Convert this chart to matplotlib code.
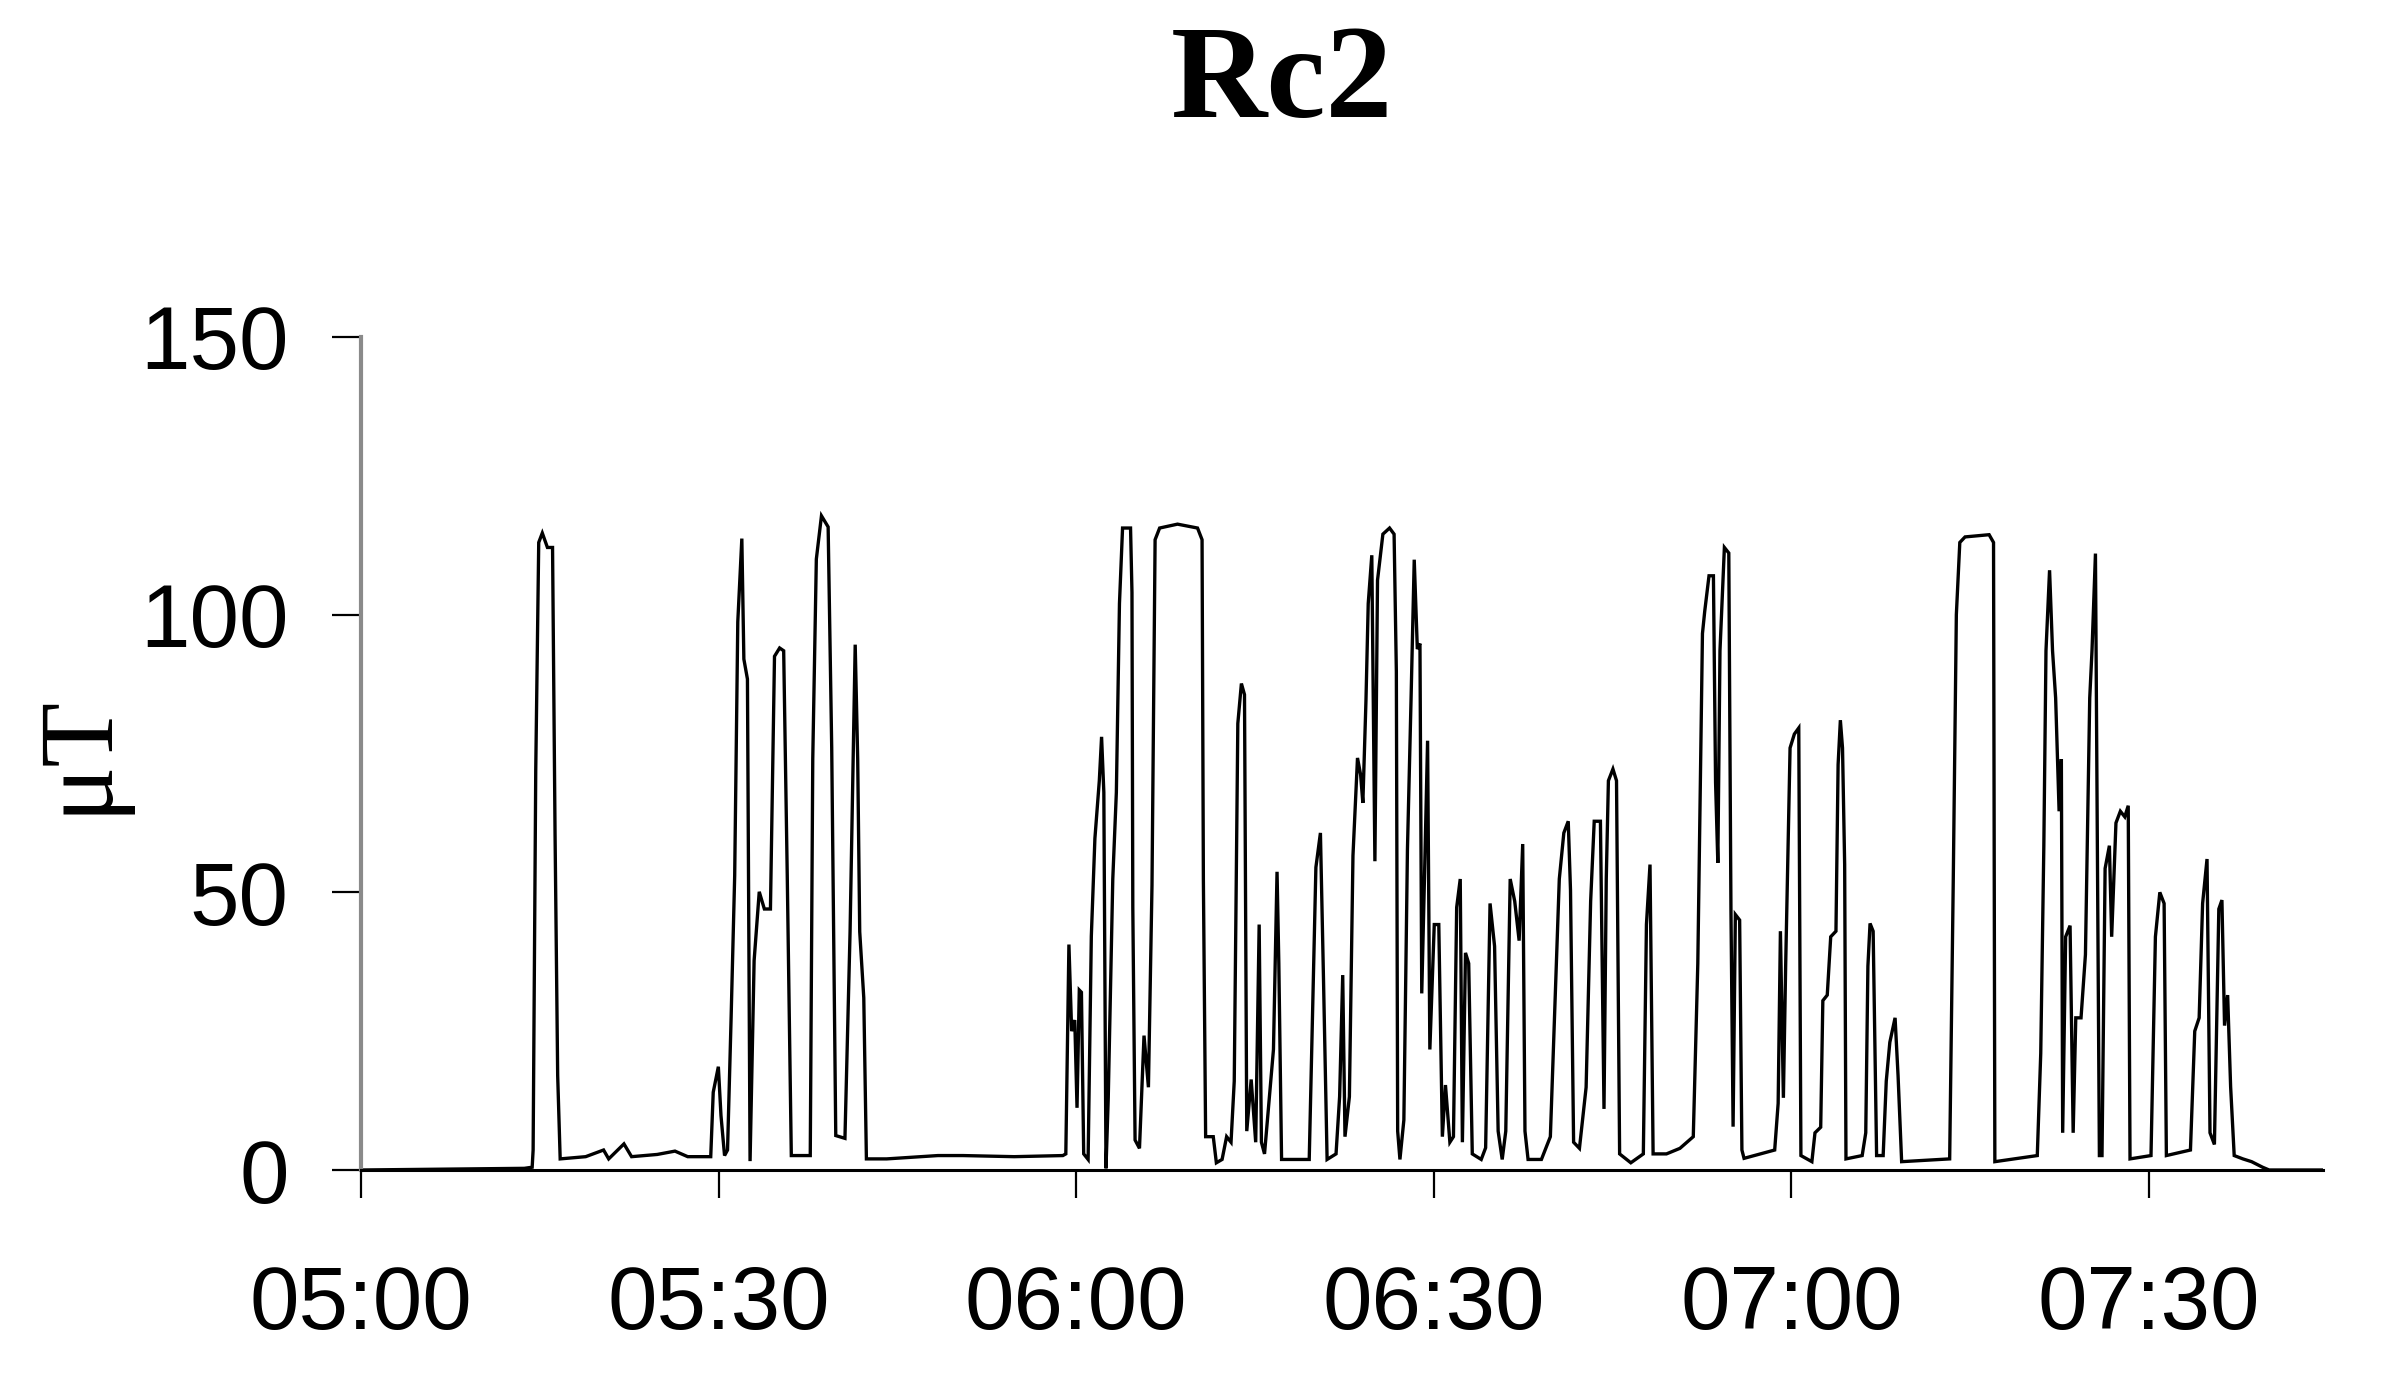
import matplotlib
matplotlib.use("Agg")
import matplotlib.pyplot as plt

# time in minutes after 05:00, field in microtesla
minutes = [
    0.0, 13.7, 14.36, 14.44, 14.66, 14.91, 15.21, 15.64, 16.07, 16.28, 16.5, 16.71,
    18.85, 20.35, 20.78, 22.06, 22.7, 24.85, 26.34, 27.41, 29.34, 29.55, 29.98, 30.2,
    30.5, 30.75, 31.05, 31.35, 31.61, 31.95, 32.12, 32.42, 32.64, 32.98, 33.41, 33.84,
    34.35, 34.69, 35.12, 35.46, 35.76, 36.1, 37.69, 37.9, 38.2, 38.63, 39.19, 39.49,
    39.83, 40.6, 41.03, 41.46, 41.67, 41.84, 42.18, 42.4, 44.1, 48.4, 50.5, 54.8,
    58.88, 59.13, 59.39, 59.62, 59.88, 60.07, 60.26, 60.44, 60.63, 61.0, 61.27, 61.57,
    61.94, 62.13, 62.32, 62.5, 62.69, 63.07, 63.37, 63.63, 63.89, 64.56, 64.68, 64.75,
    64.94, 65.31, 65.69, 66.06, 66.36, 66.62, 67.0, 68.5, 70.18, 70.56, 70.67, 70.86,
    71.5, 71.76, 72.24, 72.62, 72.99, 73.26, 73.56, 73.86, 74.12, 74.31, 74.68, 75.06,
    75.35, 75.54, 75.8, 76.55, 76.85, 77.0, 77.23, 79.55, 80.11, 80.49, 80.75, 81.05,
    81.8, 82.1, 82.36, 82.55, 82.92, 83.22, 83.6, 83.86, 84.05, 84.31, 84.5, 84.8,
    85.06, 85.28, 85.73, 86.29, 86.67, 86.86, 86.97, 87.16, 87.49, 87.79, 88.09, 88.36,
    88.62, 88.84, 88.99, 89.22, 89.48, 89.67, 90.04, 90.42, 90.72, 90.98, 91.35, 91.65,
    91.92, 92.22, 92.4, 92.66, 92.93, 93.23, 93.98, 94.35, 94.72, 95.1, 95.4, 95.74,
    96.04, 96.41, 96.79, 97.16, 97.46, 97.65, 97.91, 99.03, 99.78, 100.53, 100.91, 101.28,
    101.47, 101.73, 102.22, 102.78, 103.16, 103.46, 103.98, 104.28, 104.47, 104.65, 105.03, 105.33,
    105.59, 106.53, 107.58, 107.84, 108.14, 108.4, 109.52, 110.65, 111.77, 112.15, 112.54, 112.73,
    113.09, 113.46, 113.64, 113.83, 114.01, 114.38, 114.75, 114.93, 115.11, 115.3, 115.66, 115.85,
    116.03, 118.6, 118.89, 119.08, 119.33, 119.52, 119.89, 120.25, 120.62, 120.8, 121.72, 121.98,
    122.46, 122.64, 123.01, 123.3, 123.74, 123.92, 124.11, 124.29, 124.47, 124.58, 125.94, 126.24,
    126.42, 126.6, 126.86, 127.15, 127.7, 127.96, 128.26, 128.7, 128.95, 129.25, 133.28, 133.58,
    133.84, 134.13, 134.57, 136.59, 136.96, 137.07, 140.63, 140.92, 141.18, 141.36, 141.66, 141.91,
    142.17, 142.46, 142.65, 142.76, 143.01, 143.38, 143.64, 143.86, 144.3, 144.67, 145.03, 145.22,
    145.51, 145.69, 145.84, 146.06, 146.32, 146.68, 146.87, 147.23, 147.6, 147.97, 148.26, 148.41,
    150.17, 150.54, 150.91, 151.27, 151.46, 153.48, 153.84, 154.21, 154.5, 154.87, 155.12, 155.49,
    155.86, 156.12, 156.34, 156.6, 156.85, 157.15, 157.88, 158.61, 159.53, 160.08, 165.0,
]
micro_tesla = [
    0.0, 0.3, 0.5, 3.6, 72.0, 113.0, 114.7, 112.1, 112.1, 60.5, 17.0, 2.0,
    2.4, 3.6, 2.0, 4.7, 2.4, 2.8, 3.4, 2.4, 2.4, 14.0, 18.6, 9.8,
    2.6, 3.6, 27.4, 53.0, 98.7, 113.7, 92.0, 88.4, 1.6, 37.7, 50.1, 47.0,
    47.0, 92.5, 94.0, 93.5, 53.0, 2.6, 2.6, 74.0, 110.0, 117.8, 115.8, 76.0,
    6.2, 5.7, 42.9, 94.6, 74.0, 42.9, 31.0, 2.0, 2.0, 2.6, 2.6, 2.4,
    2.6, 2.9, 40.6, 25.0, 27.0, 11.2, 32.4, 32.0, 2.9, 1.9, 42.1, 59.7,
    70.1, 78.0, 68.0, 0.3, 13.0, 52.4, 68.0, 102.0, 115.6, 115.6, 104.0, 47.3,
    5.4, 3.9, 24.2, 14.9, 51.3, 113.5, 115.6, 116.3, 115.6, 113.5, 52.4, 6.0,
    6.0, 1.3, 1.9, 6.0, 5.0, 16.0, 80.4, 87.6, 85.6, 7.0, 16.3, 5.0,
    44.2, 5.0, 2.9, 21.7, 53.7, 37.2, 1.9, 1.9, 54.5, 60.7, 34.1, 1.9,
    2.9, 13.2, 35.1, 6.0, 13.2, 56.6, 74.2, 71.2, 66.1, 84.5, 102.0, 110.7,
    55.6, 106.2, 114.5, 115.6, 114.5, 89.7, 7.0, 1.9, 9.0, 57.7, 84.5, 109.9,
    93.8, 94.8, 31.8, 52.7, 77.3, 21.7, 44.2, 44.2, 6.0, 15.3, 5.0, 6.0,
    47.3, 52.4, 5.0, 39.1, 37.2, 2.9, 1.9, 4.0, 48.0, 40.3, 7.0, 1.9,
    7.0, 52.4, 48.4, 41.3, 58.7, 7.0, 1.9, 1.9, 6.0, 52.4, 60.7, 62.8,
    50.4, 5.0, 3.9, 14.9, 48.4, 62.8, 62.8, 11.0, 52.4, 70.1, 72.2, 70.1,
    2.9, 1.3, 2.9, 44.2, 55.0, 2.9, 2.9, 3.9, 6.0, 37.2, 96.6, 100.6,
    107.0, 107.0, 69.8, 55.3, 93.5, 112.1, 111.1, 47.0, 7.8, 46.0, 45.0, 3.6,
    2.1, 3.6, 12.0, 43.0, 13.0, 36.7, 76.0, 78.5, 79.6, 2.6, 1.5, 6.7,
    7.7, 30.5, 31.5, 42.0, 43.0, 73.0, 81.0, 76.0, 55.0, 2.0, 2.6, 6.7,
    36.7, 44.4, 43.0, 2.6, 2.6, 16.0, 23.0, 27.4, 17.0, 1.5, 2.0, 52.0,
    100.0, 113.0, 114.0, 114.4, 113.0, 1.5, 2.6, 21.0, 58.4, 93.5, 108.0, 93.5,
    85.0, 64.6, 74.0, 6.7, 42.0, 44.0, 6.7, 27.4, 27.4, 38.8, 85.0, 93.5,
    111.0, 52.0, 2.6, 2.6, 54.3, 58.4, 42.0, 62.5, 64.6, 63.6, 65.6, 2.0,
    2.6, 42.0, 50.0, 48.0, 2.6, 3.6, 25.0, 27.4, 48.0, 56.0, 6.7, 4.6,
    47.0, 48.6, 26.0, 31.5, 15.0, 2.6, 2.0, 1.5, 0.5, 0.0, 0.0,
]

x_ticks = [0, 30, 60, 90, 120, 150]
x_ticklabels = ["05:00", "05:30", "06:00", "06:30", "07:00", "07:30"]
y_ticks = [0, 50, 100, 150]

W, H = 2386, 1384
fig = plt.figure(figsize=(W / 100, H / 100), dpi=100)
ax_w = 2323 - 361
ax = fig.add_axes([361 / W, 1 - 1170 / H, ax_w / W, 833 / H])

ax.plot(minutes, micro_tesla, color="black", lw=2.4, solid_joinstyle="miter")

ax.set_xlim(0, 164.6)
ax.set_ylim(0, 150)
ax.set_xticks(x_ticks)
ax.set_xticklabels(x_ticklabels)
ax.set_yticks(y_ticks)

for side in ("top", "right"):
    ax.spines[side].set_visible(False)
ax.spines["left"].set_color("#8a8a8a")
ax.spines["left"].set_linewidth(3.0)
ax.spines["bottom"].set_color("black")
ax.spines["bottom"].set_linewidth(2.2)

ax.tick_params(axis="y", direction="out", length=21, width=1.6, pad=31,
               labelsize=64, colors="black")
ax.tick_params(axis="x", direction="out", length=20, width=1.6, pad=48,
               labelsize=64, colors="black")
for lab in ax.get_xticklabels() + ax.get_yticklabels():
    lab.set_family("Liberation Sans")

ax.set_ylabel("\u03bcT", family="Liberation Serif", fontsize=76)
ax.yaxis.set_label_coords((127 - 361) / ax_w, 0.5)

fig.text(1282 / W, 1 - 117 / H, "Rc2", family="Liberation Serif",
         fontweight="bold", fontsize=96, ha="center", va="baseline")

fig.savefig("out.png", dpi=100)
